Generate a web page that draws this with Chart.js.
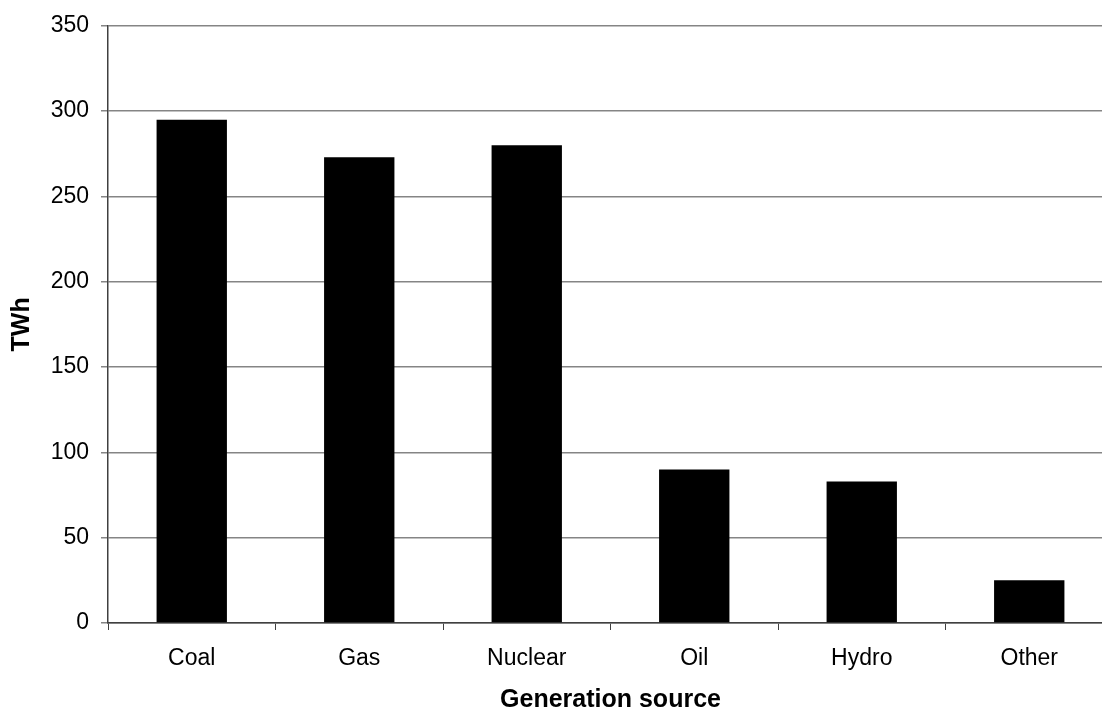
<!DOCTYPE html>
<html lang="en">
<head>
    <meta charset="UTF-8">
    <title>Generation by source</title>
    <script src="https://cdn.jsdelivr.net/npm/chart.js"></script>
    <style>
        html, body { margin: 0; padding: 0; background: #fff; overflow: hidden; }
        #wrap { width: 1102px; height: 715px; overflow: hidden; }
    </style>
</head>
<body>
    <div id="wrap">
        <canvas id="genChart" width="1113" height="715"></canvas>
    </div>

    <script>
        const sources = ['Coal', 'Gas', 'Nuclear', 'Oil', 'Hydro', 'Other'];
        const twh = [295, 273, 280, 90, 83, 25];
        const yTicks = [0, 50, 100, 150, 200, 250, 300, 350];

        const font = { family: '"Liberation Sans", Arial, sans-serif', size: 23 };
        const titleFont = { family: font.family, size: 25, weight: 'bold' };

        const ctx = document.getElementById('genChart').getContext('2d');
        new Chart(ctx, {
            type: 'bar',
            data: {
                labels: sources,
                datasets: [{
                    label: 'TWh',
                    data: twh,
                    backgroundColor: '#000000',
                    borderWidth: 0,
                    categoryPercentage: 1,
                    barPercentage: 0.42
                }]
            },
            options: {
                responsive: false,
                animation: false,
                layout: { padding: { top: 22, right: 0, left: 0, bottom: 0 } },
                plugins: { legend: { display: false }, tooltip: { enabled: false } },
                scales: {
                    x: {
                        grid: {
                            offset: true,
                            drawOnChartArea: false,
                            tickLength: 7,
                            color: '#404040'
                        },
                        border: { color: '#404040', width: 1.5 },
                        ticks: { color: '#000', font: font, padding: 15 },
                        title: {
                            display: true,
                            text: 'Generation source',
                            color: '#000',
                            font: titleFont,
                            padding: 0
                        },
                        afterFit: s => { s.height = 92; }
                    },
                    y: {
                        min: 0,
                        max: 350,
                        afterBuildTicks: s => { s.ticks = yTicks.map(v => ({ value: v })); },
                        grid: { color: '#858585', lineWidth: 1.5, tickLength: 7 },
                        border: { color: '#404040', width: 1.5 },
                        ticks: { color: '#000', font: font, padding: 12 },
                        title: {
                            display: true,
                            text: 'TWh',
                            color: '#000',
                            font: titleFont,
                            padding: 7
                        },
                        afterFit: s => { s.width = 108; }
                    }
                }
            }
        });
    </script>
</body>
</html>
